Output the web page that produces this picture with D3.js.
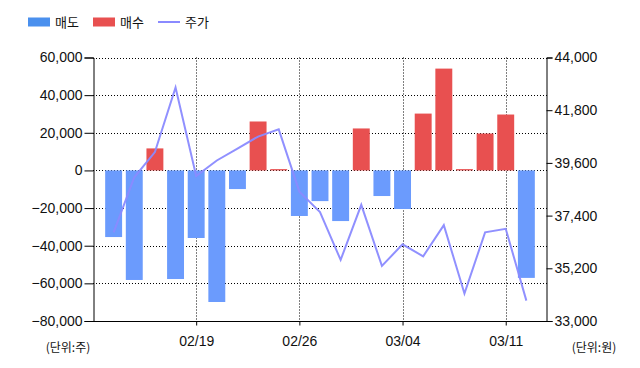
<!DOCTYPE html>
<html><head><meta charset="utf-8">
<script src="https://cdn.jsdelivr.net/npm/d3@7/dist/d3.min.js"></script>
<style>
html,body{margin:0;padding:0;background:#fff;}
svg{display:block;}
text{font-family:Arial,"Liberation Sans",sans-serif;}
.kr{font-family:"Noto Sans CJK KR","Noto Sans",sans-serif;}
</style></head>
<body>
<svg id="c" width="640" height="368"></svg>
<script>
const dates = ["02/13","02/14","02/15","02/16","02/19","02/20","02/21","02/22","02/23","02/26","02/27","02/28","02/29","03/01","03/04","03/05","03/06","03/07","03/08","03/11","03/12"];
const sellValues = [-35400,-58200,0,-57700,-35900,-69900,-9900,0,0,-24200,-16300,-26900,0,-13600,-20500,0,0,0,0,0,-57100];
const buyValues  = [0,0,11700,0,0,0,0,26000,700,0,0,0,22300,0,0,30200,54100,700,19600,29700,0];
const priceValues = [36700,39000,40050,42750,39050,39700,40200,40700,41000,38400,37550,35550,37850,35300,36200,35700,37000,34150,36700,36850,33850];
const xTickLabels = ["02/19","02/26","03/04","03/11"];
const leftTicks = [-80000,-60000,-40000,-20000,0,20000,40000,60000];
const rightTicks = [33000,35200,37400,39600,41800,44000];
const legendLabels = ["매도","매수","주가"];
const unitLabels = ["(단위:주)","(단위:원)"];

const svg = d3.select("#c");
const L = 93, R = 547, T = 57.5, B = 321;
const blue = "#6b9bfd", red = "#e85050", lineColor = "#8a8aff";

const x = d3.scalePoint().domain(dates).range([L, R]).padding(1);
const yL = d3.scaleLinear().domain([-80000, 60000]).range([B, T]);
const yR = d3.scaleLinear().domain([33000, 44000]).range([B, T]);
const bw = x.step() * 0.82;

// grid
const g = svg.append("g");
g.selectAll(".hg").data(leftTicks.filter(d => d > -80000)).join("line")
  .attr("x1", L).attr("x2", R).attr("y1", d => Math.round(yL(d)) + 0.5).attr("y2", d => Math.round(yL(d)) + 0.5)
  .attr("stroke", "#000").attr("stroke-dasharray", "1,2");
g.selectAll(".vg").data(xTickLabels).join("line")
  .attr("x1", d => Math.round(x(d)) + 0.5).attr("x2", d => Math.round(x(d)) + 0.5)
  .attr("y1", T).attr("y2", B).attr("stroke", "#000").attr("stroke-dasharray", "1,2");

// bars
svg.append("g").selectAll("rect").data(dates.map((d, i) => ({d, v: sellValues[i]})).filter(o => o.v !== 0)).join("rect")
  .attr("x", o => x(o.d) - bw / 2).attr("width", bw)
  .attr("y", yL(0)).attr("height", o => yL(o.v) - yL(0)).attr("fill", blue);
svg.append("g").selectAll("rect").data(dates.map((d, i) => ({d, v: buyValues[i]})).filter(o => o.v !== 0)).join("rect")
  .attr("x", o => x(o.d) - bw / 2).attr("width", bw)
  .attr("y", o => yL(o.v)).attr("height", o => yL(0) - yL(o.v)).attr("fill", red);

// price line
svg.append("path").datum(priceValues)
  .attr("d", d3.line().x((v, i) => x(dates[i])).y(v => yR(v)))
  .attr("fill", "none").attr("stroke", lineColor).attr("stroke-width", 2).attr("stroke-opacity", 0.95);

// axes
const fmt = d3.format(",");
const ax = svg.append("g").attr("transform", `translate(${L + 0.5},0)`)
  .call(d3.axisLeft(yL).tickValues(leftTicks).tickFormat(fmt).tickSizeOuter(0).tickSize(9).tickPadding(2));
const ar = svg.append("g").attr("transform", `translate(${R - 0.5},0)`)
  .call(d3.axisRight(yR).tickValues(rightTicks).tickFormat(fmt).tickSizeOuter(0).tickSize(6).tickPadding(2));
const ab = svg.append("g").attr("transform", `translate(0,${B + 0.5})`)
  .call(d3.axisBottom(x).tickValues(xTickLabels).tickSizeOuter(0).tickSize(4).tickPadding(11));
[ax, ar, ab].forEach(a => {
  a.selectAll("path").attr("stroke", "#000");
  a.selectAll("line").attr("stroke", "#000");
  a.selectAll("text").attr("fill", "#111").style("font-size", "14px").style("font-family", "Arial,'Liberation Sans',sans-serif");
});
ab.select(".domain").attr("d", `M${L},0H${R}`);

// units
svg.append("text").attr("class", "kr").attr("x", 68).attr("y", 352).attr("text-anchor", "middle")
  .style("font-size", "12px").attr("fill", "#111").text(unitLabels[0]);
svg.append("text").attr("class", "kr").attr("x", 594).attr("y", 352).attr("text-anchor", "middle")
  .style("font-size", "12px").attr("fill", "#111").text(unitLabels[1]);

// legend
const lg = svg.append("g");
lg.append("rect").attr("x", 28).attr("y", 17.5).attr("width", 22).attr("height", 9).attr("fill", "#4a90ee");
lg.append("text").attr("class", "kr").attr("x", 55).attr("y", 26.5).style("font-size", "13px").attr("fill", "#111").text(legendLabels[0]);
lg.append("rect").attr("x", 93).attr("y", 17.5).attr("width", 22).attr("height", 9).attr("fill", red);
lg.append("text").attr("class", "kr").attr("x", 120).attr("y", 26.5).style("font-size", "13px").attr("fill", "#111").text(legendLabels[1]);
lg.append("line").attr("x1", 158).attr("x2", 180).attr("y1", 22).attr("y2", 22).attr("stroke", lineColor).attr("stroke-width", 2);
lg.append("text").attr("class", "kr").attr("x", 185).attr("y", 26.5).style("font-size", "13px").attr("fill", "#111").text(legendLabels[2]);
</script>
</body></html>
